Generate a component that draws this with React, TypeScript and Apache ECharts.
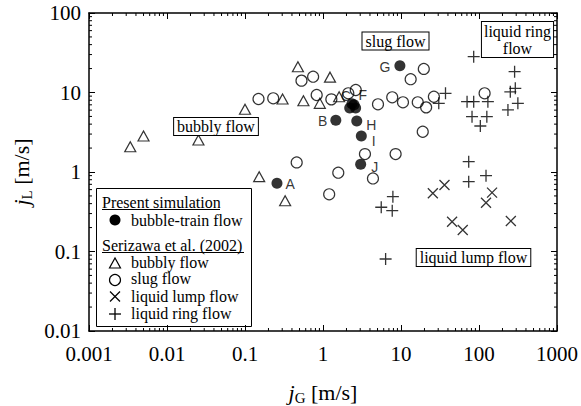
import React, { useEffect, useRef } from 'react';
import * as echarts from 'echarts';

// ---- data ----
const xTickLabels = ['0.001', '0.01', '0.1', '1', '10', '100', '1000'];
const yTickLabels = ['0.01', '0.1', '1', '10', '100'];

// Present simulation: bubble-train flow
const trainNames = ['A', 'B', 'C', 'D', 'E', 'F', 'G', 'H', 'I', 'J'];
const trainJG = [0.257, 1.46, 2.2, 2.62, 2.5, 2.35, 9.68, 2.71, 3.1, 3.04];
const trainJL = [0.72, 4.47, 6.4, 6.4, 7.0, 7.2, 21.7, 4.38, 2.84, 1.25];

// Serizawa et al. (2002)
const bubblyFlow: [number, number][] = [
  [0.00338, 2.08], [0.005, 2.84], [0.0253, 2.53], [0.1, 6.15], [0.152, 0.873],
  [0.327, 0.435], [0.303, 8.28], [0.477, 21.1], [0.561, 7.88], [0.91, 7.3],
  [1.23, 15.6], [1.61, 8.85],
];
const slugFlow: [number, number][] = [
  [0.149, 8.28], [0.23, 8.45], [0.53, 14.1], [0.747, 15.8], [0.83, 9.3],
  [0.46, 1.32], [1.28, 8.2], [2.11, 9.77], [2.63, 10.75], [5.07, 7.1],
  [7.72, 8.7], [10.6, 7.53], [16.4, 7.53], [21, 6.5], [26.4, 8.85],
  [118, 9.77], [19, 3.21], [19.6, 19.8], [13.3, 14.7], [3.45, 1.68],
  [8.53, 1.68], [1.57, 0.98], [4.37, 0.83], [1.2, 0.524],
];
const liquidLumpFlow: [number, number][] = [
  [25.6, 0.54], [36.1, 0.686], [45.2, 0.237], [61.9, 0.186], [123, 0.411],
  [147, 0.55], [256, 0.242],
];
const liquidRingFlow: [number, number][] = [
  [85.5, 28.2], [37.2, 9.77], [30.5, 7.3], [70.3, 7.66], [85.5, 7.66],
  [130, 7.66], [81.4, 4.97], [126, 4.97], [104, 3.79], [286, 18.3],
  [292, 11.3], [252, 10.2], [315, 7.3], [235, 6.03], [73.8, 1.35],
  [73.8, 0.755], [123, 0.898], [7.87, 0.489], [5.58, 0.36], [7.72, 0.326],
  [6.35, 0.0805],
];

const SERIF = 'Liberation Serif';
const SANS = 'Liberation Sans';

const labelPlacement: Record<string, any> = {
  A: { position: 'right', distance: 3, offset: [0, 1] },
  B: { position: 'left', distance: 3, offset: [0, 1] },
  C: { position: 'top', distance: 0, offset: [-4, 1] },
  F: { position: 'right', distance: 1, offset: [0, -9] },
  G: { position: 'left', distance: 4, offset: [0, 1] },
  H: { position: 'right', distance: 4, offset: [0, 4] },
  I: { position: 'right', distance: 5, offset: [0, 5] },
  J: { position: 'right', distance: 5, offset: [0, 3] },
};

const CROSS = 'path://M0,0L10,10M10,0L0,10';
const PLUS = 'path://M6,0L6,12M0,6L12,6';

function tickFmt(labels: string[], minExp: number) {
  return (v: number) => {
    const i = Math.round(Math.log10(v)) - minExp;
    return labels[i] ?? '';
  };
}

export default function App() {
  const ref = useRef<HTMLDivElement>(null);
  useEffect(() => {
    if (!ref.current) return;
    const chart = echarts.init(ref.current, null, { renderer: 'svg' });

    const axisCommon = {
      type: 'log' as const,
      logBase: 10,
      axisLine: { show: true, onZero: false, lineStyle: { color: '#000', width: 1.5 } },
      axisTick: { show: true, inside: true, length: 6, lineStyle: { color: '#000', width: 1 } },
      splitLine: { show: false },
      minorTick: { show: false },
    };

    const hollow = { color: 'rgba(255,255,255,0)', borderColor: '#000', borderWidth: 1.2 };

    const trainData = trainNames.map((n, i) => {
      const p = labelPlacement[n];
      return {
        value: [trainJG[i], trainJL[i]],
        name: n,
        label: p
          ? { show: true, formatter: n, ...p, fontFamily: SANS, fontSize: 14, color: '#000' }
          : { show: false },
      };
    });

    const option: any = {
      animation: false,
      backgroundColor: '#fff',
      grid: { left: 89, right: 23, top: 13, bottom: 75, containLabel: false },
      xAxis: [
        {
          ...axisCommon,
          min: 0.001,
          max: 1000,
          splitNumber: 6,
          position: 'bottom',
          axisLabel: {
            fontFamily: SERIF, fontSize: 21, color: '#000', margin: 12,
            formatter: tickFmt(xTickLabels, -3),
          },
        },
        {
          ...axisCommon,
          min: 0.001,
          max: 1000,
          splitNumber: 6,
          position: 'top',
          axisLabel: { show: false },
        },
      ],
      yAxis: [
        {
          ...axisCommon,
          min: 0.01,
          max: 100,
          splitNumber: 4,
          position: 'left',
          axisLabel: {
            fontFamily: SERIF, fontSize: 21, color: '#000', margin: 8,
            formatter: tickFmt(yTickLabels, -2),
          },
        },
        {
          ...axisCommon,
          min: 0.01,
          max: 100,
          splitNumber: 4,
          position: 'right',
          axisLabel: { show: false },
        },
      ],
      series: [
        {
          type: 'custom',
          silent: true,
          xAxisIndex: 0,
          yAxisIndex: 0,
          data: [[1, 1]],
          z: 1,
          renderItem: (params: any, api: any) => {
            const cs = params.coordSys;
            const children: any[] = [];
            const st = { stroke: '#000', lineWidth: 1 };
            const L = 3;
            for (let e = -3; e < 3; e++) {
              for (let m = 2; m <= 9; m++) {
                const v = m * Math.pow(10, e);
                const px = api.coord([v, 1])[0];
                children.push({ type: 'line', shape: { x1: px, y1: cs.y + cs.height, x2: px, y2: cs.y + cs.height - L }, style: st });
                children.push({ type: 'line', shape: { x1: px, y1: cs.y, x2: px, y2: cs.y + L }, style: st });
              }
            }
            for (let e = -2; e < 2; e++) {
              for (let m = 2; m <= 9; m++) {
                const v = m * Math.pow(10, e);
                const py = api.coord([1, v])[1];
                children.push({ type: 'line', shape: { x1: cs.x, y1: py, x2: cs.x + L, y2: py }, style: st });
                children.push({ type: 'line', shape: { x1: cs.x + cs.width, y1: py, x2: cs.x + cs.width - L, y2: py }, style: st });
              }
            }
            return { type: 'group', children };
          },
        },
        {
          name: 'bubbly flow',
          type: 'scatter',
          data: bubblyFlow,
          symbol: 'triangle',
          symbolSize: [11, 10],
          itemStyle: hollow,
          z: 3,
        },
        {
          name: 'slug flow',
          type: 'scatter',
          data: slugFlow,
          symbol: 'circle',
          symbolSize: 11,
          itemStyle: hollow,
          z: 3,
        },
        {
          name: 'liquid lump flow',
          type: 'scatter',
          data: liquidLumpFlow,
          symbol: CROSS,
          symbolSize: 10,
          itemStyle: { color: '#000', borderColor: '#000', borderWidth: 1.3 },
          z: 3,
        },
        {
          name: 'liquid ring flow',
          type: 'scatter',
          data: liquidRingFlow,
          symbol: PLUS,
          symbolSize: 12,
          itemStyle: { color: '#000', borderColor: '#000', borderWidth: 1.3 },
          z: 3,
        },
        {
          name: 'bubble-train flow',
          type: 'scatter',
          data: trainData,
          symbol: 'circle',
          symbolSize: 11,
          itemStyle: { color: '#000' },
          z: 4,
        },
      ],
      graphic: [
        // annotation boxes
        {
          type: 'text', x: 216, y: 126.5, z: 50,
          style: {
            text: 'bubbly flow', font: `16px "${SERIF}"`, fill: '#000',
            align: 'center', verticalAlign: 'middle',
            backgroundColor: '#fff', borderColor: '#000', borderWidth: 1, padding: [1, 3, 0, 3],
          },
        },
        {
          type: 'text', x: 395.5, y: 41, z: 50,
          style: {
            text: 'slug flow', font: `16px "${SERIF}"`, fill: '#000',
            align: 'center', verticalAlign: 'middle',
            backgroundColor: '#fff', borderColor: '#000', borderWidth: 1, padding: [1, 3, 0, 3],
          },
        },
        {
          type: 'text', x: 517.5, y: 39.5, z: 50,
          style: {
            text: 'liquid ring\nflow', font: `16px "${SERIF}"`, fill: '#000', lineHeight: 17,
            align: 'center', verticalAlign: 'middle',
            backgroundColor: '#fff', borderColor: '#000', borderWidth: 1, padding: [1, 2, 0, 2],
          },
        },
        {
          type: 'text', x: 473.5, y: 257.5, z: 50,
          style: {
            text: 'liquid lump flow', font: `16px "${SERIF}"`, fill: '#000',
            align: 'center', verticalAlign: 'middle',
            backgroundColor: '#fff', borderColor: '#000', borderWidth: 1, padding: [1, 3, 0, 3],
          },
        },
        // legend
        {
          type: 'group', z: 60,
          children: [
            { type: 'rect', shape: { x: 96.5, y: 188.5, width: 155, height: 138 }, style: { fill: '#fff', stroke: '#000', lineWidth: 1 } },
            { type: 'text', x: 102, y: 202, style: { text: 'Present simulation', font: `16px "${SERIF}"`, fill: '#000', verticalAlign: 'middle' } },
            { type: 'line', shape: { x1: 102, y1: 209.5, x2: 220, y2: 209.5 }, style: { stroke: '#000', lineWidth: 1 } },
            { type: 'circle', shape: { cx: 115, cy: 220, r: 5.5 }, style: { fill: '#000' } },
            { type: 'text', x: 131, y: 220, style: { text: 'bubble-train flow', font: `16px "${SERIF}"`, fill: '#000', verticalAlign: 'middle' } },
            { type: 'text', x: 102, y: 245, style: { text: 'Serizawa et al. (2002)', font: `16px "${SERIF}"`, fill: '#000', verticalAlign: 'middle' } },
            { type: 'line', shape: { x1: 102, y1: 252.5, x2: 244, y2: 252.5 }, style: { stroke: '#000', lineWidth: 1 } },
            { type: 'polygon', shape: { points: [[109.5, 268], [120.5, 268], [115, 258]] }, style: { fill: 'none', stroke: '#000', lineWidth: 1.2 } },
            { type: 'text', x: 131, y: 262, style: { text: 'bubbly flow', font: `16px "${SERIF}"`, fill: '#000', verticalAlign: 'middle' } },
            { type: 'circle', shape: { cx: 115, cy: 280, r: 5.5 }, style: { fill: 'none', stroke: '#000', lineWidth: 1.2 } },
            { type: 'text', x: 131, y: 278.5, style: { text: 'slug flow', font: `16px "${SERIF}"`, fill: '#000', verticalAlign: 'middle' } },
            { type: 'line', shape: { x1: 110, y1: 291.5, x2: 120, y2: 301.5 }, style: { stroke: '#000', lineWidth: 1.3 } },
            { type: 'line', shape: { x1: 120, y1: 291.5, x2: 110, y2: 301.5 }, style: { stroke: '#000', lineWidth: 1.3 } },
            { type: 'text', x: 131, y: 296, style: { text: 'liquid lump flow', font: `16px "${SERIF}"`, fill: '#000', verticalAlign: 'middle' } },
            { type: 'line', shape: { x1: 115, y1: 308, x2: 115, y2: 320 }, style: { stroke: '#000', lineWidth: 1.3 } },
            { type: 'line', shape: { x1: 109, y1: 314, x2: 121, y2: 314 }, style: { stroke: '#000', lineWidth: 1.3 } },
            { type: 'text', x: 131, y: 313.5, style: { text: 'liquid ring flow', font: `16px "${SERIF}"`, fill: '#000', verticalAlign: 'middle' } },
          ],
        },
        // axis titles
        {
          type: 'text', x: 323, y: 392, z: 50,
          style: {
            text: '{j|j}{s|G}{t| [m/s]}',
            align: 'center', verticalAlign: 'middle', fill: '#000',
            rich: {
              j: { fontFamily: SERIF, fontSize: 22, fontStyle: 'italic', lineHeight: 26, verticalAlign: 'middle' },
              s: { fontFamily: SERIF, fontSize: 15, lineHeight: 14, verticalAlign: 'bottom' },
              t: { fontFamily: SERIF, fontSize: 22, lineHeight: 26, verticalAlign: 'middle' },
            },
          },
        },
        {
          type: 'text', x: 21, y: 172, rotation: Math.PI / 2, z: 50,
          style: {
            text: '{j|j}{s|L}{t| [m/s]}',
            align: 'center', verticalAlign: 'middle', fill: '#000',
            rich: {
              j: { fontFamily: SERIF, fontSize: 22, fontStyle: 'italic', lineHeight: 26, verticalAlign: 'middle' },
              s: { fontFamily: SERIF, fontSize: 15, lineHeight: 14, verticalAlign: 'bottom' },
              t: { fontFamily: SERIF, fontSize: 22, lineHeight: 26, verticalAlign: 'middle' },
            },
          },
        },
      ],
    };

    chart.setOption(option);
    return () => chart.dispose();
  }, []);

  return (
    <div
      ref={ref}
      style={{ position: 'fixed', left: 0, top: 0, width: 581, height: 406, background: '#fff' }}
    />
  );
}
